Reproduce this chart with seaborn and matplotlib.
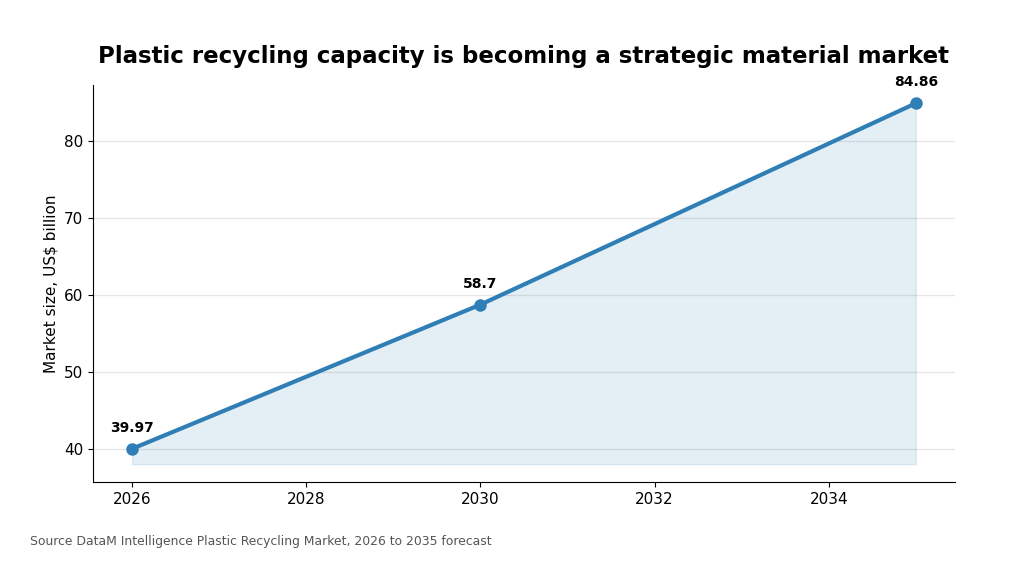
import numpy as np
import pandas as pd
import matplotlib
matplotlib.use("Agg")
import matplotlib.pyplot as plt
import seaborn as sns

years = [2026, 2030, 2035]
market_size = [39.97, 58.7, 84.86]
labels = ["39.97", "58.7", "84.86"]

df = pd.DataFrame({"year": years, "size": market_size})

sns.set_style("ticks")
plt.rcParams['font.family'] = ['DejaVu Sans']
plt.rcParams['text.color'] = 'black'
plt.rcParams['axes.labelcolor'] = 'black'
plt.rcParams['xtick.color'] = 'black'
plt.rcParams['ytick.color'] = 'black'
plt.rcParams['axes.edgecolor'] = 'black'

fig = plt.figure(figsize=(10.26, 5.72), dpi=100)
ax = fig.add_axes([0.0906, 0.157, 0.8402, 0.694])

col = "#2f7eb5"
base = min(market_size) * 0.95
ax.fill_between(df["year"], df["size"], base, color=col, alpha=0.13)
sns.lineplot(data=df, x="year", y="size", ax=ax, color=col, linewidth=3,
             marker="o", markersize=9, markeredgewidth=0)

for x, y, t in zip(years, market_size, labels):
    ax.annotate(t, (x, y), xytext=(0, 10), textcoords="offset points",
                ha="center", va="bottom", fontsize=10, fontweight="bold")

ax.set_xticks([2026, 2028, 2030, 2032, 2034])
ax.set_yticks([40, 50, 60, 70, 80])
ax.tick_params(labelsize=11)
ax.yaxis.grid(True, color="#e6e6e6", linewidth=0.9)
ax.set_axisbelow(True)
sns.despine(ax=ax)
ax.set_xlabel("")
ax.set_ylabel("Market size, US$ billion", fontsize=11)
ax.set_title("Plastic recycling capacity is becoming a strategic material market",
             fontsize=16.5, fontweight="bold", pad=16)

fig.text(0.029, 0.048, "Source DataM Intelligence Plastic Recycling Market, 2026 to 2035 forecast",
         fontsize=8.9, color="#555555")

fig.savefig("out.png", dpi=100)
